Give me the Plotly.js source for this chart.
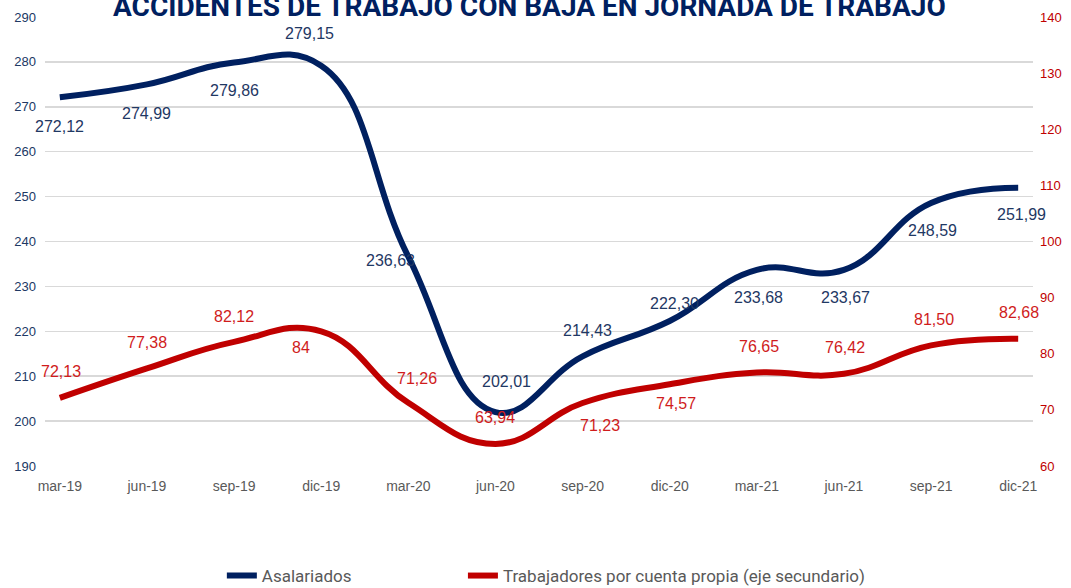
<!DOCTYPE html>
<html>
<head>
<meta charset="utf-8">
<script src="https://cdn.plot.ly/plotly-3.0.1.min.js"></script>
<style>html,body{margin:0;padding:0;background:#fff;}#chart{width:1071px;height:588px;}</style>
</head>
<body>
<div id="chart"></div>
<script>
const categories = ["mar-19","jun-19","sep-19","dic-19","mar-20","jun-20","sep-20","dic-20","mar-21","jun-21","sep-21","dic-21"];
const asalariados = [272.12,274.99,279.86,279.15,236.63,202.01,214.43,222.30,233.68,233.67,248.59,251.99];
const cuentaPropia = [72.13,77.38,82.12,84,71.26,63.94,71.23,74.57,76.65,76.42,81.50,82.68];
const seriesNames = ["Asalariados","Trabajadores por cuenta propia (eje secundario)"];
const chartTitle = "ACCIDENTES DE TRABAJO CON BAJA EN JORNADA DE TRABAJO";

// label offsets in px (dx right, dy down)
const blueOffsets = [[0,29],[0,29],[0,28],[-12,-32],[-18,4],[11,-31],[5,-26],[5,-17],[2,28],[2,28],[1,28],[3,27]];
const redOffsets = [[1,-26],[0,-26],[0,-25],[-20,16],[9,-24],[0,-26],[17,23],[6,19],[2,-26],[1,-26],[3,-26],[1,-26]];

const NAVY = "#002060", RED = "#C00000";
function fmt(v){ return Number.isInteger(v) ? String(v) : v.toFixed(2).replace('.', ','); }

const traces = [
  {x: categories, y: asalariados, name: seriesNames[0], type: 'scatter', mode: 'lines',
   line: {color: NAVY, width: 6, shape: 'spline', smoothing: 1.25}, yaxis: 'y', legend: 'legend', hoverinfo: 'skip'},
  {x: categories, y: cuentaPropia, name: seriesNames[1], type: 'scatter', mode: 'lines',
   line: {color: RED, width: 6, shape: 'spline', smoothing: 1.25}, yaxis: 'y2', legend: 'legend2', hoverinfo: 'skip'}
];

const annotations = [];
categories.forEach((c, i) => {
  annotations.push({x: c, y: asalariados[i], xref: 'x', yref: 'y', text: fmt(asalariados[i]), showarrow: false,
    xshift: blueOffsets[i][0], yshift: -blueOffsets[i][1], font: {family: 'Liberation Sans, Arial', size: 16, color: '#1F3864'}});
  annotations.push({x: c, y: cuentaPropia[i], xref: 'x', yref: 'y2', text: fmt(cuentaPropia[i]), showarrow: false,
    xshift: redOffsets[i][0], yshift: -redOffsets[i][1], font: {family: 'Liberation Sans, Arial', size: 16, color: '#D01C1C'}});
});
annotations.push({x: 0.49, y: 1, xref: 'paper', yref: 'paper', xanchor: 'center', yanchor: 'middle', yshift: 11,
  text: '<b>' + chartTitle + '</b>', showarrow: false, font: {family: 'Roboto', size: 28, color: '#002060'}});

const legendFont = {family: 'Roboto', size: 17, color: '#595959'};
const layout = {
  width: 1071, height: 588,
  margin: {l: 45, r: 38, t: 17, b: 122, autoexpand: false},
  paper_bgcolor: '#fff', plot_bgcolor: '#fff',
  showlegend: true,
  legend: {orientation: 'h', x: 0.179, xanchor: 'left', y: -0.245, yanchor: 'middle', font: legendFont, bgcolor: 'rgba(0,0,0,0)'},
  legend2: {orientation: 'h', x: 0.423, xanchor: 'left', y: -0.245, yanchor: 'middle', font: legendFont, bgcolor: 'rgba(0,0,0,0)'},
  xaxis: {type: 'category', range: [-0.17, 11.17], showgrid: false, zeroline: false, showline: false,
    ticks: '', ticklabelstandoff: 10, tickfont: {family: 'Liberation Sans, Arial', size: 14, color: '#595959'}, fixedrange: true},
  yaxis: {range: [190, 290], dtick: 10, showgrid: true, gridcolor: '#d9d9d9', gridwidth: 1.5, zeroline: false,
    showline: false, ticks: '', ticklabelstandoff: 8, tickfont: {family: 'Liberation Sans, Arial', size: 13, color: '#203864'}},
  yaxis2: {range: [60, 140], dtick: 10, overlaying: 'y', side: 'right', showgrid: false, zeroline: false,
    showline: false, ticks: '', ticklabelstandoff: 6, tickfont: {family: 'Liberation Sans, Arial', size: 13, color: '#C00000'}},
  annotations: annotations
};
Plotly.newPlot('chart', traces, layout, {displayModeBar: false, staticPlot: true});
</script>
</body>
</html>
